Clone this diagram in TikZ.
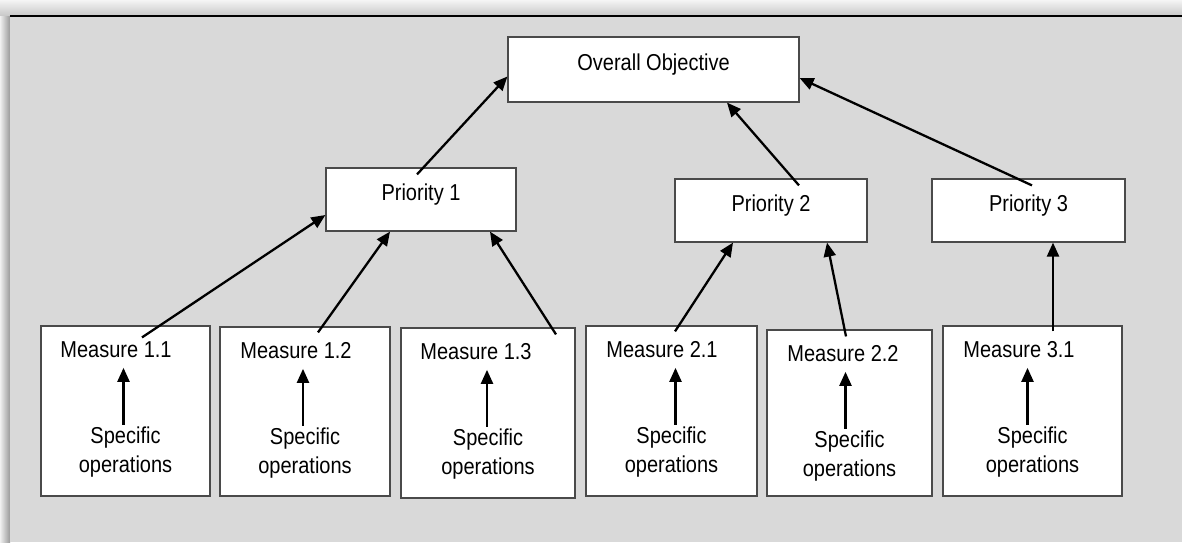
\documentclass[tikz,border=0pt]{standalone}
\usepackage{fontspec}
\setmainfont{Liberation Sans}[FakeStretch=0.87]
\usetikzlibrary{arrows.meta, calc}
\definecolor{panelGrey}{HTML}{D9D9D9}
\definecolor{boxEdge}{HTML}{4A4A4A}

\tikzset{
    box/.style={draw=boxEdge, line width=1.2pt, fill=white, inner sep=0pt},
    headbox/.style={box, text height=14pt, text depth=12pt},
    measureText/.style={inner sep=0pt, anchor=base},
    opsText/.style={inner sep=2pt, align=center},
    link/.style={-{Triangle[length=14pt, width=12pt]}, line width=2.3pt, black}
}

\begin{document}
\begin{tikzpicture}[x=1pt, y=-1pt, font=\fontsize{23}{29}\selectfont]
    \useasboundingbox (0,0) rectangle (1182,542);
    % backdrop with its shadow
    \fill[white] (0,0) rectangle (1182,542);
    \shade[top color=black!4, bottom color=black!22] (0,0) rectangle (1182,16);
    \shade[left color=black!6, right color=black!40] (0,16) rectangle (10,542);
    \fill[panelGrey] (10,16) rectangle (1182,542);
    \draw[line width=1.5pt] (10,16) -- (1182,16);

    % objective and priorities
    \node[headbox, minimum width=291pt, minimum height=65pt] (obj) at (653.5,69.5) {Overall Objective};
    \node[headbox, minimum width=190pt, minimum height=63pt] (p1) at (421,199.5) {Priority 1};
    \node[headbox, minimum width=192pt, minimum height=63pt] (p2) at (771,210.5) {Priority 2};
    \node[headbox, minimum width=193pt, minimum height=63pt] (p3) at (1028.5,210.5) {Priority 3};

    % measures with their operations
    \foreach \n/\t/\x/\y/\w/\h/\dl/\da in {
        11/1.1/125.5/411/169/170/-9.5/-2,
        12/1.2/305/411.5/170/169/-9/-2,
        13/1.3/488/413/174/170/-12/-1,
        21/2.1/671.5/411/171/170/-9.5/4,
        22/2.2/849.5/413/165/166/-6.5/-4,
        31/3.1/1032.5/411/179/170/-13.5/-5} {
        \node[box, minimum width=\w pt, minimum height=\h pt] (m\n) at (\x,\y) {};
        \node[measureText] (l\n) at ($(m\n.north)+(\dl,32)$) {Measure \t};
        \node[opsText] (o\n) at ($(m\n.north)+(0,127)$) {Specific\\operations};
        \draw[link] ($(o\n.north)+(\da,0)$) -- ($(o\n.north |- l\n.south)+(\da,10)$);
    }

    % links upwards
    \draw[link] ($(m11.north)+(16.5,12)$) -- ($(p1.west)+(0,15.5)$);
    \draw[link] ($(m12.north)+(13,6)$) -- ($(p1.south)+(-31,0)$);
    \draw[link] ($(m13.north)+(68,7)$) -- ($(p1.south)+(69,0)$);
    \draw[link] ($(p1.north)+(-4,7)$) -- ($(obj.west)+(0,7)$);
    \draw[link] ($(m21.north)+(3.5,6)$) -- ($(p2.south)+(-38,0)$);
    \draw[link] ($(m22.north)+(-3.5,7)$) -- ($(p2.south)+(56,0)$);
    \draw[link] ($(p2.north)+(28,7)$) -- ($(obj.south)+(73.5,0)$);
    \draw[link] ($(m31.north)+(20.5,6)$) -- ($(p3.south)+(24.5,0)$);
    \draw[link] ($(p3.north)+(3.5,7)$) -- ($(obj.east)+(0,8.5)$);
\end{tikzpicture}
\end{document}
